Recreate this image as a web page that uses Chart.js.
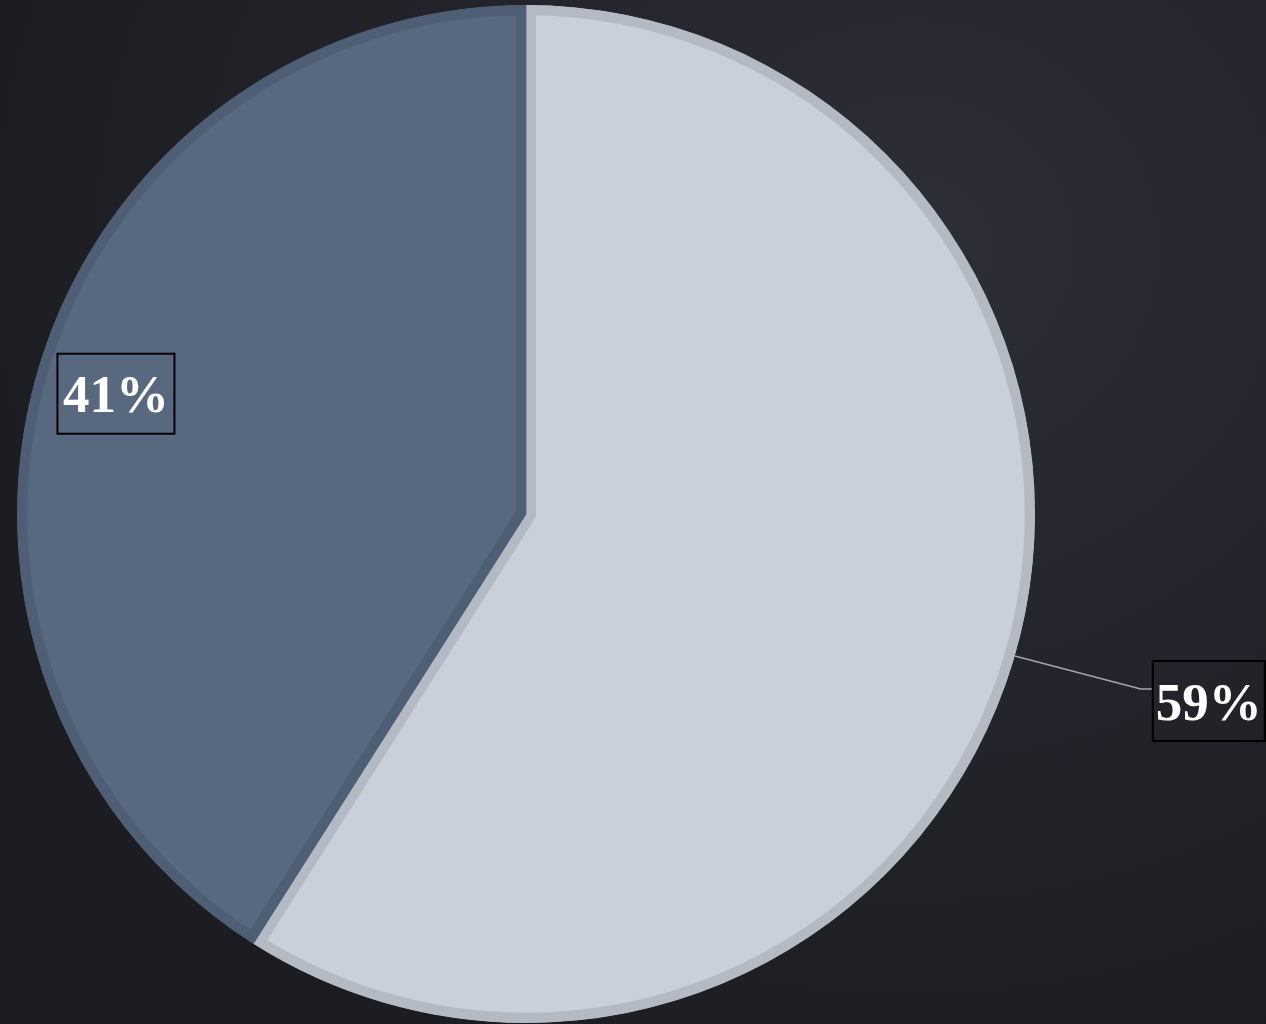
<!DOCTYPE html>
<html>
<head>
<meta charset="utf-8">
<script src="https://cdn.jsdelivr.net/npm/chart.js"></script>
<style>
  html, body { margin: 0; padding: 0; }
  body {
    width: 1266px; height: 1024px; overflow: hidden;
    background: radial-gradient(ellipse 75% 85% at 72% 24%, #2d2e36 0%, #25262d 45%, #1b1d22 100%);
  }
  #wrap { width: 1266px; height: 1024px; position: relative; }
</style>
</head>
<body>
<div id="wrap"><canvas id="pieChart"></canvas></div>
<script>
// dados do gráfico
const categories = ["Série A", "Série B"];
const values = [59, 41];
const valueLabels = ["59%", "41%"];

const fillColors = ["#c9d0da", "#58697f"];
const edgeColors = ["#b4bac3", "#4e5e74"];

// rótulos com caixa preta
const boxLabels = {
  id: "boxLabels",
  afterDatasetsDraw(chart) {
    const ctx = chart.ctx;
    const arcs = chart.getDatasetMeta(0).data;
    ctx.save();
    ctx.font = "bold 53px 'Liberation Serif', serif";
    ctx.textAlign = "center";
    ctx.textBaseline = "middle";

    // 59% - fora da pizza, com linha guia
    let a = arcs[0];
    let mid = (a.startAngle + a.endAngle) / 2;
    let sx = a.x + Math.cos(mid) * a.outerRadius;
    let sy = a.y + Math.sin(mid) * a.outerRadius;
    let ex = sx + 126, ey = sy + 33;
    ctx.strokeStyle = "#a3a7ad";
    ctx.lineWidth = 1.5;
    ctx.beginPath();
    ctx.moveTo(sx, sy);
    ctx.lineTo(ex, ey);
    ctx.lineTo(ex + 12, ey);
    ctx.stroke();
    drawBox(ctx, ex + 12, ey - 28, 112, 80, valueLabels[0]);

    // 41% - dentro da fatia
    a = arcs[1];
    mid = (a.startAngle + a.endAngle) / 2;
    const cx = a.x + Math.cos(mid) * a.outerRadius * 0.84;
    const cy = a.y + Math.sin(mid) * a.outerRadius * 0.84;
    drawBox(ctx, cx - 58, cy - 41, 117, 80, valueLabels[1]);
    ctx.restore();
  }
};

function drawBox(ctx, x, y, w, h, text) {
  ctx.strokeStyle = "#000000";
  ctx.lineWidth = 2;
  ctx.strokeRect(x, y, w, h);
  ctx.fillStyle = "#ffffff";
  ctx.fillText(text, x + w / 2, y + h / 2 + 5);
}

new Chart(document.getElementById("pieChart"), {
  type: "pie",
  data: {
    labels: categories,
    datasets: [{
      data: values,
      backgroundColor: fillColors,
      borderColor: edgeColors,
      borderWidth: 10,
      borderAlign: "inner",
      hoverOffset: 0
    }]
  },
  options: {
    responsive: true,
    maintainAspectRatio: false,
    animation: false,
    events: [],
    layout: { padding: { left: 17, top: 5, right: 231, bottom: 1 } },
    plugins: {
      legend: { display: false },
      tooltip: { enabled: false }
    }
  },
  plugins: [boxLabels]
});
</script>
</body>
</html>
